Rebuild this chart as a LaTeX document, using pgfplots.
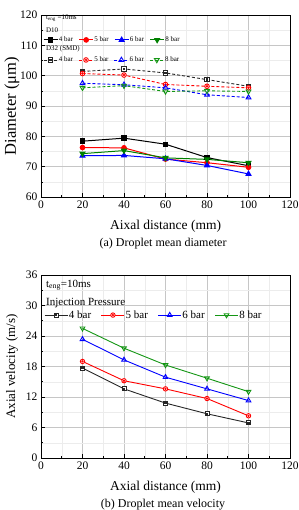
\documentclass[border=0pt]{standalone}
\usepackage{pgfplots}
\pgfplotsset{compat=1.18}
\usepackage{fontspec}
\setmainfont{Liberation Serif}
\definecolor{dgreen}{RGB}{0,128,0}
\definecolor{lgreen}{RGB}{20,150,20}

% open marks with a small inner mark, Origin style
\pgfdeclareplotmark{sqdot}{%
  \pgfpathrectangle{\pgfpoint{-\pgfplotmarksize}{-\pgfplotmarksize}}{\pgfpoint{2\pgfplotmarksize}{2\pgfplotmarksize}}%
  \pgfusepathqfillstroke
  \pgfpathrectangle{\pgfpoint{-0.35\pgfplotmarksize}{-0.35\pgfplotmarksize}}{\pgfpoint{0.7\pgfplotmarksize}{0.7\pgfplotmarksize}}%
  \pgfusepathqstroke}
\pgfdeclareplotmark{circdot}{%
  \pgfpathcircle{\pgfpointorigin}{\pgfplotmarksize}%
  \pgfusepathqfillstroke
  \pgfpathcircle{\pgfpointorigin}{0.3\pgfplotmarksize}%
  \pgfusepathqstroke}

\newcommand{\gapA}{\rule{4.7pt}{0pt}}
\newcommand{\gapB}{\rule{9pt}{0pt}}

\pgfplotsset{
  common/.style={
    scale only axis, width=249pt, clip=false,
    xmin=0, xmax=120, xtick={0,20,...,120}, minor x tick num=1,
    grid=both,
    major grid style={gray!45, line width=0.5pt},
    minor grid style={gray!15, line width=0.4pt},
    tick align=inside, xtick pos=left, ytick pos=left,
    major tick length=4pt, minor tick length=2pt,
    axis line style={line width=0.8pt}, tick style={line width=0.6pt, black},
    ticklabel style={font=\fontsize{11.5}{13}\selectfont},
    /pgf/number format/assume math mode=true,
    legend cell align=left,
  },
  hidden/.style={
    scale only axis, width=249pt, hide axis,
    xmin=0, xmax=120,
  },
  % one-row legend, spacing between entries carried by the entry text
  rowlegend/.style={
    legend columns=4,
    legend style={draw=none, fill=none, inner sep=0pt, column sep=0pt,
      nodes={inner sep=0.8pt},
      /tikz/every even column/.style={column sep=0pt},
      /tikz/every odd column/.style={column sep=0pt}},
  },
}

\begin{document}
\begin{tikzpicture}
\path[use as bounding box] (0,0) rectangle (299pt,-510pt);

% ---------- (a) droplet mean diameter ----------
\begin{axis}[common, rowlegend,
  at={(41pt,-197pt)}, anchor=south west, height=182pt,
  ymin=60, ymax=120, ytick={60,70,...,120}, minor y tick num=1,
  xlabel={Aixal distance (mm)},
  ylabel={Diameter (μm)},
  xlabel style={at={(axis description cs:0.5,-0.159)}, anchor=center, font=\fontsize{13.5}{15}\selectfont},
  ylabel style={at={(axis description cs:-0.1165,0.5)}, anchor=center, font=\fontsize{16.5}{19}\selectfont},
  legend image code/.code={\draw[mark repeat=2,mark phase=2] plot coordinates {(0pt,0pt) (7pt,0pt) (14pt,0pt)};},
  legend style={at={(rel axis cs:0.008,0.863)}, anchor=west, font=\fontsize{7}{8}\selectfont},
]
\addplot[black, line width=1pt, mark=square*, mark size=2.2pt] coordinates {(20,78.4)(40,79.4)(60,77.4)(80,73.0)(100,70.3)};
\addlegendentry{4 bar\gapA}
\addplot[red, line width=1pt, mark=*, mark size=2.3pt] coordinates {(20,76.3)(40,76.2)(60,72.5)(80,71.3)(100,69.8)};
\addlegendentry{5 bar\gapA}
\addplot[blue, line width=1pt, mark=triangle*, mark size=2.8pt] coordinates {(20,73.6)(40,73.7)(60,72.6)(80,70.4)(100,67.6)};
\addlegendentry{6 bar\gapA}
\addplot[dgreen, line width=1pt, mark=triangle*, mark options={rotate=180}, mark size=2.8pt] coordinates {(20,74.3)(40,75.3)(60,72.9)(80,72.4)(100,71.3)};
\addlegendentry{8 bar}

\node[anchor=west, font=\fontsize{7}{8}\selectfont, inner sep=0pt] at (rel axis cs:0.02,0.980) {t\textsubscript{eng} =10ms};
\node[anchor=west, font=\fontsize{7}{8}\selectfont, inner sep=0pt] at (rel axis cs:0.02,0.918) {D10};
\node[anchor=west, font=\fontsize{7}{8}\selectfont, inner sep=0pt] at (rel axis cs:0.02,0.813) {D32 (SMD)};
\node[font=\fontsize{12}{14}\selectfont] at (axis description cs:0.49,-0.258) {(a) Droplet mean diameter};
\end{axis}

% D32 series, drawn on a second, hidden axis so they carry their own legend row
\begin{axis}[hidden, rowlegend,
  at={(41pt,-197pt)}, anchor=south west, height=182pt,
  ymin=60, ymax=120,
  legend image code/.code={\draw[mark repeat=2,mark phase=2] plot coordinates {(0pt,0pt) (7pt,0pt) (14pt,0pt)};},
  legend style={at={(rel axis cs:0.008,0.753)}, anchor=west, font=\fontsize{7}{8}\selectfont},
]
\addplot[black!85, line width=0.9pt, dash pattern=on 3pt off 2pt, mark=sqdot, mark size=2.2pt, mark options={solid, fill=white}] coordinates {(20,101.4)(40,102.2)(60,100.9)(80,98.7)(100,96.5)};
\addlegendentry{4 bar\gapA}
\addplot[red, line width=0.9pt, dash pattern=on 3pt off 2pt, mark=circdot, mark size=2.3pt, mark options={solid, fill=white}] coordinates {(20,100.7)(40,100.2)(60,97.1)(80,96.5)(100,96.0)};
\addlegendentry{5 bar\gapA}
\addplot[blue, line width=0.9pt, dash pattern=on 3pt off 2pt, mark=triangle, mark size=2.8pt, mark options={solid, fill=white}] coordinates {(20,97.5)(40,97.0)(60,96.0)(80,93.7)(100,92.8)};
\addlegendentry{6 bar\gapA}
\addplot[lgreen, line width=0.9pt, dash pattern=on 3pt off 2pt, mark=triangle, mark size=2.8pt, mark options={solid, fill=white, rotate=180}] coordinates {(20,96.0)(40,96.7)(60,94.8)(80,95.0)(100,94.8)};
\addlegendentry{8 bar}
\end{axis}

% ---------- (b) droplet mean velocity ----------
\begin{axis}[common, rowlegend,
  at={(41pt,-458pt)}, anchor=south west, height=183pt,
  ymin=0, ymax=36, ytick={0,6,...,36}, minor y tick num=1,
  xlabel={Axial distance (mm)},
  ylabel={Axial velocity (m/s)},
  xlabel style={at={(axis description cs:0.5,-0.158)}, anchor=center, font=\fontsize{13.5}{15}\selectfont},
  ylabel style={at={(axis description cs:-0.1165,0.5)}, anchor=center, font=\fontsize{13}{15}\selectfont},
  legend image code/.code={\draw[mark repeat=2,mark phase=2] plot coordinates {(0pt,0pt) (11.5pt,0pt) (23pt,0pt)};},
  legend style={at={(rel axis cs:0.012,0.781)}, anchor=west, font=\fontsize{11}{12}\selectfont},
]
\addplot[black!85, line width=0.9pt, mark=sqdot, mark size=2pt, mark options={fill=white}] coordinates {(20,17.7)(40,13.6)(60,10.8)(80,8.7)(100,6.9)};
\addlegendentry{4 bar\gapB}
\addplot[red, line width=0.9pt, mark=circdot, mark size=2.2pt, mark options={fill=white}] coordinates {(20,19.0)(40,15.2)(60,13.6)(80,11.7)(100,8.3)};
\addlegendentry{5 bar\gapB}
\addplot[blue, line width=0.9pt, mark=triangle, mark size=2.7pt, mark options={fill=white}] coordinates {(20,23.35)(40,19.3)(60,15.9)(80,13.6)(100,11.3)};
\addlegendentry{6 bar\gapB}
\addplot[lgreen, line width=0.9pt, mark=triangle, mark size=2.7pt, mark options={fill=white, rotate=180}] coordinates {(20,25.5)(40,21.6)(60,18.3)(80,15.7)(100,13.05)};
\addlegendentry{8 bar}

\node[anchor=west, font=\fontsize{11}{12}\selectfont, inner sep=0pt] at (rel axis cs:0.02,0.945) {t\textsubscript{eng}=10ms};
\node[anchor=west, font=\fontsize{11}{12}\selectfont, inner sep=0pt] at (rel axis cs:0.02,0.847) {Injection Pressure};
\node[font=\fontsize{12}{14}\selectfont] at (axis description cs:0.49,-0.257) {(b) Droplet mean velocity};
\end{axis}
\end{tikzpicture}
\end{document}
